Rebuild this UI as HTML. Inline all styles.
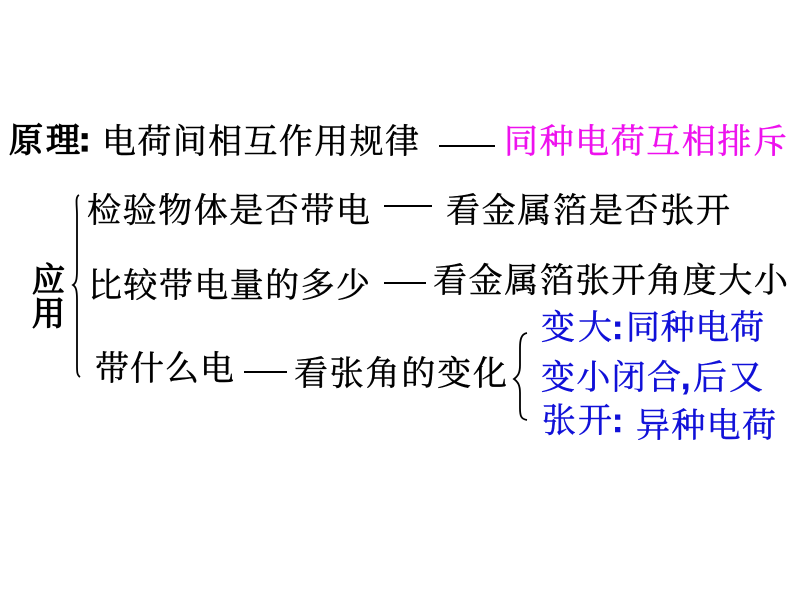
<!DOCTYPE html>
<html><head><meta charset="utf-8"><style>
html,body{margin:0;padding:0;background:#fff;width:800px;height:600px;overflow:hidden}
svg{display:block}
text{font-family:"Liberation Sans","Noto Serif CJK SC",serif;font-size:34px;fill:#000;stroke:#000;stroke-width:.45px}
.b{fill:#1010d8;stroke:#1010d8}.m{fill:#ee11ee;stroke:#ee11ee}
.bold{stroke-width:1.3px}
.c{font-weight:700}
line{stroke:#000;stroke-width:2}
path{fill:none;stroke:#000;stroke-width:1.8}
</style></head><body>
<svg width="800" height="600" viewBox="0 0 800 600" xmlns="http://www.w3.org/2000/svg">
<text class="bold" x="9" y="152" textLength="71">原理</text>
<text class="bold c" x="79" y="151">:</text>
<text x="102" y="153" textLength="317">电荷间相互作用规律</text>
<line x1="439" y1="146" x2="495" y2="146"/>
<text class="m" x="504" y="153" textLength="283">同种电荷互相排斥</text>

<text x="87" y="222" textLength="283">检验物体是否带电</text>
<line x1="384" y1="206" x2="432" y2="206"/>
<text x="446" y="222" textLength="284">看金属箔是否张开</text>

<text x="88" y="297" textLength="282">比较带电量的多少</text>
<line x1="384" y1="283" x2="426" y2="283"/>
<text x="433" y="292" textLength="355">看金属箔张开角度大小</text>

<text x="95" y="380" textLength="139">带什么电</text>
<line x1="244" y1="372" x2="287" y2="372"/>
<text x="294" y="385" textLength="213">看张角的变化</text>

<text class="bold" x="32" y="291" style="font-size:33px">应</text>
<text class="bold" x="32" y="325" style="font-size:33px">用</text>

<path d="M79 195 C75 197 77 205 77 215 L77 270 C77 280 76 283 73 285 C76 287 77 290 77 300 L77 365 C77 372 77 375 80 377"/>
<path d="M527 333 C521 334 520 340 520 348 L520 365 C520 373 518 376 514 379 C518 382 520 385 520 393 L520 408 C520 416 521 419 527 420"/>

<text class="b" x="541" y="339" textLength="71">变大</text>
<text class="b c" x="612" y="339">:</text>
<text class="b" x="626" y="339" textLength="138">同种电荷</text>
<text class="b" x="541" y="389" textLength="140">变小闭合</text>
<text class="b c" x="681" y="389">,</text>
<text class="b" x="693" y="389" textLength="70">后又</text>
<text class="b" x="542" y="432" textLength="70">张开</text>
<text class="b c" x="612" y="432">:</text>
<text class="b" x="636" y="437" textLength="140">异种电荷</text>
</svg>
</body></html>
